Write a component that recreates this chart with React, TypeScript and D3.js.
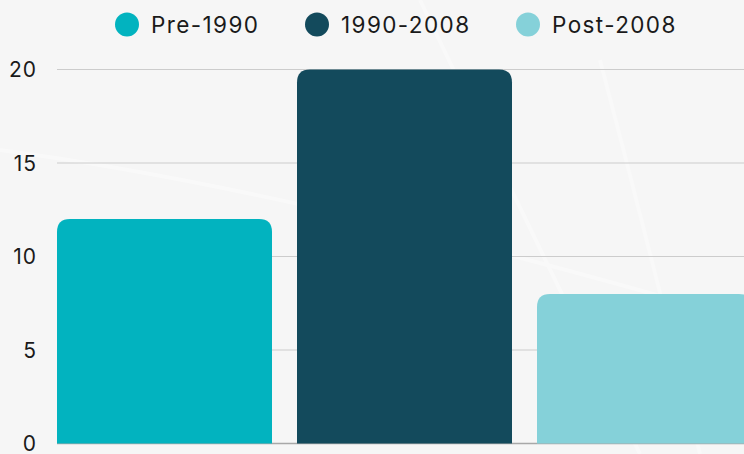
import React from "react";
import * as d3 from "d3";

const categories = ["Pre-1990", "1990-2008", "Post-2008"];
const values = [12, 20, 8];
const colors = ["#02b3bf", "#134a5c", "#85d1d9"];
const yTicks = [0, 5, 10, 15, 20];

const W = 744;
const H = 454;
const FONT = "Inter, 'Open Sans', sans-serif";

// top-rounded bar path
const barPath = (x: number, y: number, w: number, h: number, r: number) =>
  `M${x},${y + h}V${y + r}Q${x},${y} ${x + r},${y}H${x + w - r}Q${x + w},${y} ${x + w},${y + r}V${y + h}Z`;

const App: React.FC = () => {
  const y = d3.scaleLinear().domain([0, 20]).range([443.5, 69.5]);
  const x = d3
    .scaleBand<string>()
    .domain(categories)
    .range([57, 752])
    .paddingInner(25 / 240)
    .paddingOuter(0);

  const legendX = [127, 317, 528];

  return (
    <div style={{ position: "fixed", left: 0, top: 0 }}>
      <svg width={W} height={H} style={{ display: "block" }}>
        <rect width={W} height={H} fill="#f6f6f6" />
        {/* faint background streaks */}
        <g stroke="#ffffff" strokeWidth={4} opacity={0.35} fill="none">
          <path d="M420,0 Q540,250 640,454" />
          <path d="M600,60 Q650,250 700,454" />
          <path d="M0,150 Q300,190 744,320" />
        </g>

        {/* grid lines */}
        {yTicks.map((t) => (
          <line
            key={"g" + t}
            x1={57}
            x2={W}
            y1={y(t)}
            y2={y(t)}
            stroke={t === 0 ? "#a8a8a8" : "#cccccc"}
            strokeWidth={t === 0 ? 1.5 : 1}
          />
        ))}

        {/* tick labels */}
        {yTicks.map((t) => (
          <text
            key={"t" + t}
            x={37}
            y={y(t)}
            dy="0.36em"
            textAnchor="end"
            fontFamily={FONT}
            fontSize={21}
            letterSpacing={1}
            fill="#1a1a1a"
          >
            {t}
          </text>
        ))}

        {/* bars */}
        {categories.map((c, i) => {
          const x0 = x(c) ?? 0;
          const y0 = y(values[i]);
          return (
            <path
              key={c}
              d={barPath(x0, y0, x.bandwidth(), y(0) - y0, 13)}
              fill={colors[i]}
            />
          );
        })}

        {/* legend */}
        {categories.map((c, i) => (
          <g key={"l" + c}>
            <circle cx={legendX[i]} cy={24.5} r={12} fill={colors[i]} />
            <text
              x={legendX[i] + 24}
              y={24.5}
              dy="0.36em"
              fontFamily={FONT}
              fontSize={22.5}
              letterSpacing={1.4}
              fill="#1a1a1a"
            >
              {c}
            </text>
          </g>
        ))}
      </svg>
    </div>
  );
};

export default App;
